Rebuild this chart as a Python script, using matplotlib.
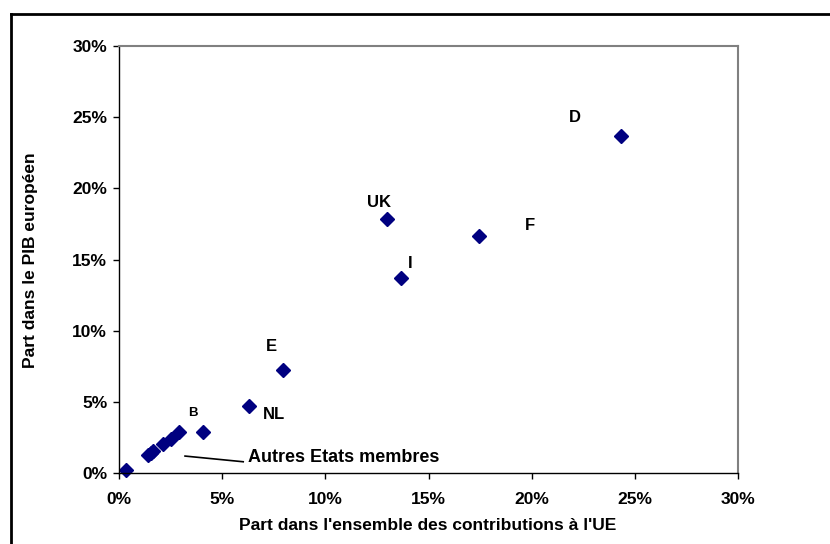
import matplotlib
matplotlib.use('Agg')
import matplotlib.pyplot as plt
from matplotlib.lines import Line2D
from matplotlib.ticker import PercentFormatter

plt.rcParams['font.family'] = ['Liberation Sans', 'DejaVu Sans']
plt.rcParams['font.weight'] = 'bold'

# labelled member states: share of EU contributions (%) vs share of EU GDP (%)
countries = ['D', 'F', 'UK', 'I', 'E', 'NL', 'B']
contrib = [24.33, 17.45, 13.0, 13.67, 7.93, 6.30, 4.06]
gdp = [23.68, 16.65, 17.85, 13.72, 7.24, 4.73, 2.86]

# "Autres Etats membres"
other_contrib = [0.34, 1.42, 1.55, 1.66, 2.15, 2.50, 2.92]
other_gdp = [0.21, 1.24, 1.42, 1.57, 2.04, 2.37, 2.86]

# label positions (data units, %)
label_pos = {'D': (22.1, 25.0), 'F': (19.9, 17.4), 'UK': (12.6, 19.0),
             'I': (14.1, 14.7), 'E': (7.4, 8.9), 'NL': (7.5, 4.1), 'B': (3.6, 4.2)}

ticks = [0, 5, 10, 15, 20, 25, 30]

fig = plt.figure(figsize=(8.3, 5.44), dpi=100)
ax = fig.add_axes([119/830, 1 - 473/544, 619/830, 427/544])

navy = '#000080'
ax.plot(contrib, gdp, 'D', color=navy, ms=7.5, mec=navy, clip_on=False)
ax.plot(other_contrib, other_gdp, 'D', color=navy, ms=7.5, mec=navy, clip_on=False)

for name in countries:
    px, py = label_pos[name]
    ax.text(px, py, name, ha='center', va='center', fontweight='bold',
            fontsize=9.5 if name == 'B' else 12)

# leader line + label for the small states
ax.plot([3.2, 6.02], [1.19, 0.79], color='black', lw=1.2)
ax.text(6.25, 1.12, 'Autres Etats membres', ha='left', va='center',
        fontsize=13, fontweight='bold')

ax.set_xlim(0, 30); ax.set_ylim(0, 30)
ax.set_xticks(ticks); ax.set_yticks(ticks)
ax.xaxis.set_major_formatter(PercentFormatter(decimals=0))
ax.yaxis.set_major_formatter(PercentFormatter(decimals=0))
ax.tick_params(direction='out', length=4.5, width=1, labelsize=12.5)
ax.tick_params(axis='x', pad=9)
ax.tick_params(axis='y', pad=4)
for lab in ax.get_xticklabels() + ax.get_yticklabels():
    lab.set_fontweight('bold')

for s in ['top', 'right']:
    ax.spines[s].set_color('#808080'); ax.spines[s].set_linewidth(1.5)
for s in ['left', 'bottom']:
    ax.spines[s].set_color('black'); ax.spines[s].set_linewidth(1)

fig.text(428/830, 1 - 526/544, "Part dans l'ensemble des contributions à l'UE",
         ha='center', va='center', fontsize=12.5, fontweight='bold')
fig.text(30/830, 1 - 260/544, 'Part dans le PIB européen', rotation=90,
         ha='center', va='center', fontsize=12.5, fontweight='bold')

# outer frame (top and left edges visible)
fig.add_artist(Line2D([11/830, 1.0], [1 - 14/544, 1 - 14/544], color='black', lw=2))
fig.add_artist(Line2D([11/830, 11/830], [0, 1 - 14/544], color='black', lw=2))

fig.savefig('out.png', dpi=100)
